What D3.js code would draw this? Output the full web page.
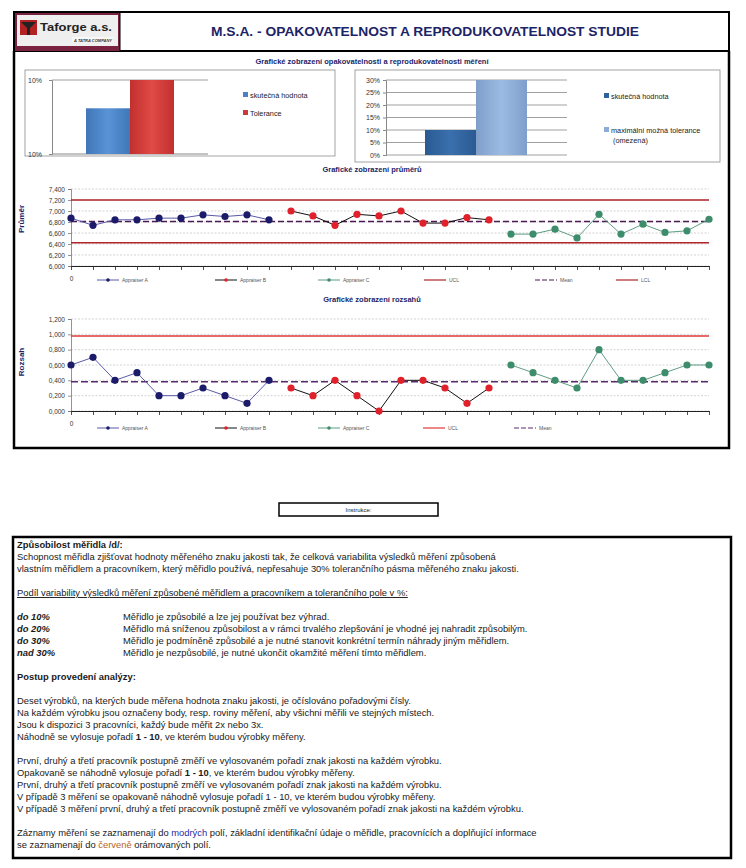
<!DOCTYPE html>
<html><head><meta charset="utf-8">
<script src="https://cdn.jsdelivr.net/npm/d3@7/dist/d3.min.js"></script>
<style>html,body{margin:0;padding:0;background:#fff;}svg{display:block;font-family:Arial,"Liberation Sans",sans-serif;}</style>
</head><body>
<script>
// ---------------- DATA ----------------
const appraisers = ["Appraiser A", "Appraiser B", "Appraiser C"];
const meansA = [6.87, 6.74, 6.84, 6.84, 6.87, 6.87, 6.93, 6.90, 6.93, 6.84];
const meansB = [7.00, 6.91, 6.74, 6.94, 6.91, 7.00, 6.78, 6.78, 6.88, 6.84];
const meansC = [6.58, 6.58, 6.67, 6.51, 6.94, 6.58, 6.76, 6.61, 6.64, 6.85];
const meanUCL = 7.199, meanCenter = 6.81, meanLCL = 6.425;
const meanTicks = [6.0, 6.2, 6.4, 6.6, 6.8, 7.0, 7.2, 7.4];

const rangesA = [0.6, 0.7, 0.4, 0.5, 0.2, 0.2, 0.3, 0.2, 0.1, 0.4];
const rangesB = [0.3, 0.2, 0.4, 0.2, 0.0, 0.4, 0.4, 0.3, 0.1, 0.3];
const rangesC = [0.6, 0.5, 0.4, 0.3, 0.8, 0.4, 0.4, 0.5, 0.6, 0.6];
const rangeUCL = 0.978, rangeCenter = 0.38;
const rangeTicks = [0, 0.2, 0.4, 0.6, 0.8, 1.0, 1.2];

const bar1Labels = ["skutečná hodnota", "Tolerance"];
const bar1Values = [0.0987, 0.10];
const bar1Domain = [0.0966, 0.10];
const bar2Labels = ["skutečná hodnota", "maximální možná tolerance"];
const bar2Values = [0.10, 0.30];
const bar2Ticks = [0, 0.05, 0.10, 0.15, 0.20, 0.25, 0.30];

const mainTitle = "M.S.A. - OPAKOVATELNOST A REPRODUKOVATELNOST STUDIE";
const sectionTitles = ["Grafické zobrazení opakovatelnosti a reprodukovatelnosti měření",
  "Grafické zobrazení průměrů", "Grafické zobrazení rozsahů"];

// ---------------- SVG ----------------
const W = 746, H = 868;
const svg = d3.select("body").append("svg").attr("width", W).attr("height", H);
svg.append("rect").attr("width", W).attr("height", H).attr("fill", "#fff");
const defs = svg.append("defs");
function grad(id, c1, c2) {
  const g = defs.append("linearGradient").attr("id", id).attr("x1", 0).attr("y1", 0).attr("x2", 1).attr("y2", 0);
  g.append("stop").attr("offset", "0%").attr("stop-color", c2);
  g.append("stop").attr("offset", "50%").attr("stop-color", c1);
  g.append("stop").attr("offset", "100%").attr("stop-color", c2);
}
grad("gBlue", "#5a93d6", "#3f77b8");
grad("gRed", "#e04a47", "#c2302e");
grad("gDark", "#3a70ad", "#2a5a92");
grad("gLight", "#9cbbe3", "#7f9fcb");

const navy = "#1c2467";

// ---------------- HEADER ----------------
svg.append("rect").attr("x", 14).attr("y", 12).attr("width", 715).attr("height", 39)
  .attr("fill", "none").attr("stroke", "#000").attr("stroke-width", 2);
// logo
svg.append("rect").attr("x", 15).attr("y", 13).attr("width", 105).attr("height", 38).attr("fill", "#7a2340");
svg.append("rect").attr("x", 17).attr("y", 15).attr("width", 101).attr("height", 31).attr("fill", "#efefef");
svg.append("rect").attr("x", 20).attr("y", 20).attr("width", 17).attr("height", 15).attr("fill", "#b22222");
svg.append("path").attr("d", "M21,22 L36,22 L30,28 L30,35 L27,35 L27,28 Z").attr("fill", "#222");
svg.append("text").attr("x", 40).attr("y", 30.5).attr("font-size", 11).attr("font-weight", "bold")
  .attr("fill", "#222").attr("textLength", 72).attr("lengthAdjust", "spacingAndGlyphs").text("Taforge a.s.");
svg.append("rect").attr("x", 72).attr("y", 37).attr("width", 41).attr("height", 5).attr("fill", "#f8f8f8");
svg.append("text").attr("x", 112).attr("y", 41.5).attr("font-size", 4).attr("font-style", "italic").attr("font-weight", "bold")
  .attr("text-anchor", "end").attr("fill", "#333").text("A TATRA COMPANY");
svg.append("line").attr("x1", 120).attr("x2", 120).attr("y1", 12).attr("y2", 51).attr("stroke", "#000").attr("stroke-width", 1);
svg.append("text").attr("x", 425).attr("y", 36).attr("text-anchor", "middle").attr("font-size", 12.5)
  .attr("font-weight", "bold").attr("fill", navy).attr("textLength", 428).attr("lengthAdjust", "spacingAndGlyphs").text(mainTitle);

// outer frame of chart area
svg.append("path").attr("d", "M14,51 L14,448 L729,448 L729,51").attr("fill", "none").attr("stroke", "#000").attr("stroke-width", 2.5);

// section titles
const titleY = [64, 172, 302];
sectionTitles.forEach((t, i) => {
  svg.append("text").attr("x", 372).attr("y", titleY[i]).attr("text-anchor", "middle").attr("font-size", 7.5)
    .attr("font-weight", "bold").attr("fill", navy).text(t);
});

// ---------------- TOP LEFT BAR CHART ----------------
svg.append("rect").attr("x", 25).attr("y", 70).attr("width", 310).attr("height", 86).attr("fill", "#fff").attr("stroke", "#8c8c8c").attr("stroke-width", 0.8);
const y1 = d3.scaleLinear().domain(bar1Domain).range([154, 80]);
const x1 = d3.scaleBand().domain(bar1Labels).range([86, 174]).padding(0);
svg.append("line").attr("x1", 52).attr("x2", 208).attr("y1", y1(bar1Domain[1])).attr("y2", y1(bar1Domain[1])).attr("stroke", "#888").attr("stroke-width", 0.8);
svg.append("g").attr("transform", "translate(52,0)")
  .call(d3.axisLeft(y1).tickValues(bar1Domain).tickFormat(d3.format(".0%")).tickSize(3))
  .call(g => { g.selectAll("text").attr("font-size", 7).attr("fill", "#333").attr("dx", -4).attr("font-family", "Arial,Liberation Sans");
               g.selectAll("line,path").attr("stroke", "#888"); });
svg.append("line").attr("x1", 52).attr("x2", 208).attr("y1", 154).attr("y2", 154).attr("stroke", "#888");
const fills1 = ["url(#gBlue)", "url(#gRed)"];
svg.selectAll(".bar1").data(bar1Values).enter().append("rect")
  .attr("x", (d, i) => x1(bar1Labels[i])).attr("width", x1.bandwidth())
  .attr("y", d => y1(d)).attr("height", d => 154 - y1(d)).attr("fill", (d, i) => fills1[i]);
const leg1Y = [95, 113];
const leg1C = ["#4a82c4", "#cc3a37"];
bar1Labels.forEach((l, i) => {
  svg.append("rect").attr("x", 243).attr("y", leg1Y[i] - 3).attr("width", 5).attr("height", 5).attr("fill", leg1C[i]);
  svg.append("text").attr("x", 250).attr("y", leg1Y[i] + 2.5).attr("font-size", 7.3).attr("fill", "#222").text(l);
});

// ---------------- TOP RIGHT BAR CHART ----------------
svg.append("rect").attr("x", 355).attr("y", 70).attr("width", 365).attr("height", 92).attr("fill", "#fff").attr("stroke", "#8c8c8c").attr("stroke-width", 0.8);
const y2 = d3.scaleLinear().domain([0, 0.3]).range([155, 80]);
const x2 = d3.scaleBand().domain(bar2Labels).range([425, 527]).padding(0);
svg.append("g").selectAll("line").data(bar2Ticks).enter().append("line")
  .attr("x1", 386).attr("x2", 567).attr("y1", d => y2(d)).attr("y2", d => y2(d)).attr("stroke", "#888").attr("stroke-width", 0.8);
svg.append("g").attr("transform", "translate(386,0)")
  .call(d3.axisLeft(y2).tickValues(bar2Ticks).tickFormat(d3.format(".0%")).tickSize(3))
  .call(g => { g.selectAll("text").attr("font-size", 7).attr("fill", "#333").attr("font-family", "Arial,Liberation Sans");
               g.selectAll("line,path").attr("stroke", "#888"); });
const fills2 = ["url(#gDark)", "url(#gLight)"];
svg.selectAll(".bar2").data(bar2Values).enter().append("rect")
  .attr("x", (d, i) => x2(bar2Labels[i])).attr("width", x2.bandwidth())
  .attr("y", d => y2(d)).attr("height", d => 155 - y2(d)).attr("fill", (d, i) => fills2[i]);
const leg2C = ["#2f619c", "#8eaad6"];
svg.append("rect").attr("x", 604).attr("y", 93).attr("width", 5).attr("height", 5).attr("fill", leg2C[0]);
svg.append("text").attr("x", 611).attr("y", 98.5).attr("font-size", 7.3).attr("fill", "#222").text(bar2Labels[0]);
svg.append("rect").attr("x", 604).attr("y", 127).attr("width", 5).attr("height", 5).attr("fill", leg2C[1]);
svg.append("text").attr("x", 611).attr("y", 132.5).attr("font-size", 7.3).attr("fill", "#222").text(bar2Labels[1]);
svg.append("text").attr("x", 613).attr("y", 143).attr("font-size", 7.3).attr("fill", "#222").text("(omezená)");

// ---------------- LINE CHARTS ----------------
const seriesStyle = [
  { line: "#5a5aa8", marker: "#1b1b6a" },
  { line: "#111", marker: "#e0202a" },
  { line: "#5f9c85", marker: "#3d8c6c" }
];
const idx = d3.range(30);
const xs = d3.scalePoint().domain(idx).range([71, 709]);
const fmt = v => d3.format(".3f")(v).replace(".", ",");

function lineChart(opt) {
  const y = d3.scaleLinear().domain(opt.domain).range(opt.range);
  const g = svg.append("g");
  g.selectAll(".grid").data(opt.ticks).enter().append("line")
    .attr("x1", 71).attr("x2", 709).attr("y1", d => y(d)).attr("y2", d => y(d))
    .attr("stroke", "#c8c8c8").attr("stroke-width", 0.8).attr("stroke-dasharray", "2,1.5");
  g.append("g").attr("transform", "translate(71,0)")
    .call(d3.axisLeft(y).tickValues(opt.ticks).tickFormat(fmt).tickSize(3))
    .call(a => { a.selectAll("text").attr("font-size", 6.5).attr("fill", "#333").attr("font-family", "Arial,Liberation Sans");
                 a.selectAll("line,path").attr("stroke", "#777").attr("stroke-width", 0.8); });
  g.append("g").attr("transform", `translate(0,${opt.range[0]})`)
    .call(d3.axisBottom(xs).tickFormat(d => d === 0 ? "0" : "").tickSize(4).tickSizeOuter(0))
    .call(a => { a.selectAll("text").attr("font-size", 6.5).attr("fill", "#333").attr("dy", "1.3em").attr("font-family", "Arial,Liberation Sans");
                 a.select("path").attr("stroke", "#222").attr("stroke-width", 1);
                 a.selectAll("line").attr("stroke", "#222").attr("stroke-width", 0.8); });
  opt.controls.forEach(c => {
    g.append("line").attr("x1", 71).attr("x2", 709).attr("y1", y(c.v)).attr("y2", y(c.v))
      .attr("stroke", c.color).attr("stroke-width", c.w).attr("stroke-dasharray", c.dash || null);
  });
  opt.series.forEach((s, si) => {
    const pts = s.map((v, i) => [xs(si * 10 + i), y(v)]);
    g.append("path").attr("d", d3.line()(pts)).attr("fill", "none").attr("stroke", seriesStyle[si].line).attr("stroke-width", 1);
    g.selectAll(null).data(pts).enter().append("circle").attr("cx", d => d[0]).attr("cy", d => d[1]).attr("r", 3.6)
      .attr("fill", seriesStyle[si].marker);
  });
  svg.append("text").attr("transform", `translate(24,${opt.labelY}) rotate(-90)`).attr("text-anchor", "middle")
    .attr("font-size", 8).attr("font-weight", "bold").attr("fill", navy).text(opt.label);
  const ly = opt.legendY;
  const items = [
    { x: 97, t: appraisers[0], c: seriesStyle[0].line, m: seriesStyle[0].marker },
    { x: 215, t: appraisers[1], c: seriesStyle[1].line, m: seriesStyle[1].marker },
    { x: 318, t: appraisers[2], c: seriesStyle[2].line, m: seriesStyle[2].marker }
  ].concat(opt.legendExtra);
  items.forEach(it => {
    svg.append("line").attr("x1", it.x).attr("x2", it.x + 22).attr("y1", ly).attr("y2", ly)
      .attr("stroke", it.c).attr("stroke-width", it.w || 1).attr("stroke-dasharray", it.dash || null);
    if (it.m) svg.append("circle").attr("cx", it.x + 11).attr("cy", ly).attr("r", 1.8).attr("fill", it.m);
    svg.append("text").attr("x", it.x + 25).attr("y", ly + 1.8).attr("font-size", 5).attr("fill", "#555").text(it.t);
  });
}

lineChart({
  domain: [6.0, 7.4], range: [266, 189], ticks: meanTicks,
  controls: [
    { v: meanUCL, color: "#b0262a", w: 1.5 },
    { v: meanLCL, color: "#b0262a", w: 1.5 },
    { v: meanCenter, color: "#4b1a55", w: 1.5, dash: "6,3" }
  ],
  series: [meansA, meansB, meansC],
  label: "Průměr", labelY: 219, legendY: 280,
  legendExtra: [
    { x: 424, t: "UCL", c: "#b0262a", w: 1.2 },
    { x: 535, t: "Mean", c: "#4b1a55", w: 1.2, dash: "5,2" },
    { x: 616, t: "LCL", c: "#b0262a", w: 1.2 }
  ]
});

lineChart({
  domain: [0, 1.2], range: [411, 319], ticks: rangeTicks,
  controls: [
    { v: rangeUCL, color: "#e03a3a", w: 1.5 },
    { v: rangeCenter, color: "#5a2a6e", w: 1.5, dash: "7,3" }
  ],
  series: [rangesA, rangesB, rangesC],
  label: "Rozsah", labelY: 362, legendY: 428,
  legendExtra: [
    { x: 423, t: "UCL", c: "#e03a3a", w: 1.2 },
    { x: 514, t: "Mean", c: "#5a2a6e", w: 1.2, dash: "5,2" }
  ]
});

// ---------------- INSTRUCTIONS ----------------
svg.append("rect").attr("x", 279).attr("y", 503).attr("width", 159).attr("height", 13).attr("fill", "#fff").attr("stroke", "#000").attr("stroke-width", 1.5);
svg.append("text").attr("x", 358.5).attr("y", 512).attr("text-anchor", "middle").attr("font-size", 6).attr("fill", "#222").text("Instrukce:");

svg.append("rect").attr("x", 13).attr("y", 537).attr("width", 718).attr("height", 321).attr("fill", "#fff").attr("stroke", "#000").attr("stroke-width", 2.5);

const textLines = [
  [{ t: "Způsobilost měřidla /d/:", b: 1 }],
  [{ t: "Schopnost měřidla zjišťovat hodnoty měřeného znaku jakosti tak, že celková variabilita výsledků měření způsobená" }],
  [{ t: "vlastním měřidlem a pracovníkem, který měřidlo používá, nepřesahuje 30% tolerančního pásma měřeného znaku jakosti." }],
  [],
  [{ t: "Podíl variability výsledků měření způsobené měřidlem a pracovníkem a tolerančního pole v %:", u: 1 }],
  [],
  [{ t: "do 10%", b: 1, i: 1 }, { t: "Měřidlo je způsobilé a lze jej používat bez výhrad.", x: 123 }],
  [{ t: "do 20%", b: 1, i: 1 }, { t: "Měřidlo má sníženou způsobilost a v rámci trvalého zlepšování je vhodné jej nahradit způsobilým.", x: 123 }],
  [{ t: "do 30%", b: 1, i: 1 }, { t: "Měřidlo je podmíněně způsobilé a je nutné stanovit konkrétní termín náhrady jiným měřidlem.", x: 123 }],
  [{ t: "nad 30%", b: 1, i: 1 }, { t: "Měřidlo je nezpůsobilé, je nutné ukončit okamžité měření tímto měřidlem.", x: 123 }],
  [],
  [{ t: "Postup provedení analýzy:", b: 1 }],
  [],
  [{ t: "Deset výrobků, na kterých bude měřena hodnota znaku jakosti, je očíslováno pořadovými čísly." }],
  [{ t: "Na každém výrobku jsou označeny body, resp. roviny měření, aby všichni měřili ve stejných místech." }],
  [{ t: "Jsou k dispozici 3 pracovníci, každý bude měřit 2x nebo 3x." }],
  [{ t: "Náhodně se vylosuje pořadí " }, { t: "1 - 10", b: 1 }, { t: ", ve kterém budou výrobky měřeny." }],
  [],
  [{ t: "První, druhý a třetí pracovník postupně změří ve vylosovaném pořadí znak jakosti na každém výrobku." }],
  [{ t: "Opakovaně se náhodně vylosuje pořadí " }, { t: "1 - 10", b: 1 }, { t: ", ve kterém budou výrobky měřeny." }],
  [{ t: "První, druhý a třetí pracovník postupně změří ve vylosovaném pořadí znak jakosti na každém výrobku." }],
  [{ t: "V případě 3 měření se opakovaně náhodně vylosuje pořadí 1 - 10, ve kterém budou výrobky měřeny." }],
  [{ t: "V případě 3 měření první, druhý a třetí pracovník postupně změří ve vylosovaném pořadí znak jakosti na každém výrobku." }],
  [],
  [{ t: "Záznamy měření se zaznamenají do " }, { t: "modrých", c: "#2a2aa0" }, { t: " polí, základní identifikační údaje o měřidle, pracovnících a doplňující informace" }],
  [{ t: "se zaznamenají do " }, { t: "červeně", c: "#b5651d" }, { t: " orámovaných polí." }]
];
textLines.forEach((segs, li) => {
  if (!segs.length) return;
  const yy = 548 + li * 12;
  let groups = [];
  let cur = null;
  segs.forEach(s => {
    if (s.x !== undefined || !cur) { cur = { x: s.x !== undefined ? s.x : 17, segs: [] }; groups.push(cur); }
    cur.segs.push(s);
  });
  groups.forEach(gr => {
    const t = svg.append("text").attr("x", gr.x).attr("y", yy).attr("font-size", 9.4).attr("fill", "#1a1a1a");
    gr.segs.forEach(s => {
      t.append("tspan").text(s.t)
        .attr("font-weight", s.b ? "bold" : null)
        .attr("font-style", s.i ? "italic" : null)
        .attr("text-decoration", s.u ? "underline" : null)
        .attr("fill", s.c || null);
    });
  });
});
</script>
</body></html>
